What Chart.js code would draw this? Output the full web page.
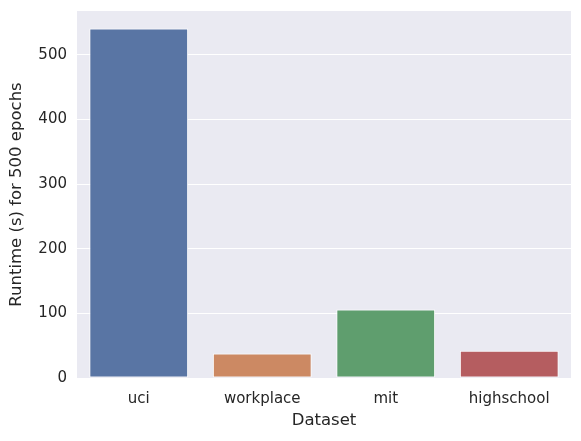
<!DOCTYPE html>
<html><head><meta charset="utf-8">
<script src="https://cdn.jsdelivr.net/npm/chart.js@4/dist/chart.umd.min.js"></script>
<style>html,body{margin:0;padding:0;background:#fff}#w{width:581px;height:441px}</style>
</head><body><div id="w"><canvas id="c" width="581" height="441"></canvas></div>
<script>
const categories = ["uci", "workplace", "mit", "highschool"];
const runtimes = [541, 38, 106, 42];
const barColors = ["#5975a4", "#cc8963", "#5f9e6e", "#b55d60"];
const yTicks = [0, 100, 200, 300, 400, 500];

const bgPlugin = {
  id: 'bg',
  beforeDraw(chart) {
    const {ctx, chartArea: a} = chart;
    ctx.save();
    ctx.fillStyle = '#eaeaf2';
    ctx.fillRect(a.left, a.top, a.right - a.left, a.bottom - a.top);
    ctx.restore();
  }
};

new Chart(document.getElementById('c'), {
  type: 'bar',
  data: {
    labels: categories,
    datasets: [{
      data: runtimes,
      backgroundColor: barColors,
      borderColor: '#ffffff',
      borderWidth: 1,
      borderSkipped: false,
      barPercentage: 0.8,
      categoryPercentage: 1.0
    }]
  },
  options: {
    responsive: false,
    animation: false,
    devicePixelRatio: 1,
    layout: { padding: { left: 0, right: 10, top: 11, bottom: 0 } },
    plugins: { legend: { display: false }, tooltip: { enabled: false } },
    scales: {
      x: {
        grid: { display: false, drawTicks: false },
        border: { display: false },
        ticks: { color: '#262626', font: { family: 'DejaVu Sans', size: 15 }, padding: 12 },
        title: { display: true, text: 'Dataset', color: '#262626', font: { family: 'DejaVu Sans', size: 16.5 }, padding: { top: 2, bottom: 10 } },
        afterFit(s) { s.height = 63; s.paddingLeft = 0; s.paddingRight = 0; }
      },
      y: {
        min: 0, max: 568,
        afterBuildTicks(s) { s.ticks = yTicks.map(v => ({ value: v })); },
        grid: { color: '#ffffff', lineWidth: 1, drawTicks: false },
        border: { display: false },
        ticks: { color: '#262626', font: { family: 'DejaVu Sans', size: 15 }, padding: 10 },
        title: { display: true, text: 'Runtime (s) for 500 epochs', color: '#262626', font: { family: 'DejaVu Sans', size: 16.5 }, padding: { top: 7, bottom: 4 } },
        afterFit(s) { s.width = 77; s.paddingTop = 0; s.paddingBottom = 0; }
      }
    }
  },
  plugins: [bgPlugin]
});
</script></body></html>
